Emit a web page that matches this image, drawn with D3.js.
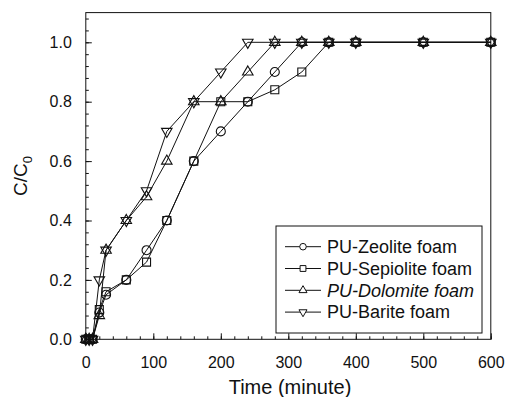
<!DOCTYPE html>
<html>
<head>
<meta charset="utf-8">
<script src="https://cdn.jsdelivr.net/npm/d3@7"></script>
<style>
body { margin: 0; background: #fff; }
text { font-family: "Liberation Sans", Arial, sans-serif; fill: #111; }
</style>
</head>
<body>
<svg id="chart0"></svg>
<script>
// data
var time = [0, 5, 10, 20, 30, 60, 90, 120, 160, 200, 240, 280, 320, 360, 400, 500, 600];
var zeolite = [0, 0, 0, 0.09, 0.15, 0.2, 0.3, 0.4, 0.6, 0.7, 0.8, 0.9, 1, 1, 1, 1, 1];
var sepiolite = [0, 0, 0, 0.1, 0.16, 0.2, 0.26, 0.4, 0.6, 0.8, 0.8, 0.84, 0.9, 1, 1, 1, 1];
var dolomite = [0, 0, 0, 0.08, 0.3, 0.4, 0.48, 0.6, 0.8, 0.8, 0.9, 1, 1, 1, 1, 1, 1];
var barite = [0, 0, 0, 0.2, 0.3, 0.4, 0.5, 0.7, 0.8, 0.9, 1, 1, 1, 1, 1, 1, 1];

var series_names = ['PU-Zeolite foam', 'PU-Sepiolite foam', 'PU-Dolomite foam', 'PU-Barite foam'];
var x_ticks = [0, 100, 200, 300, 400, 500, 600];
var y_ticks = [0, 0.2, 0.4, 0.6, 0.8, 1.0];

var width = 505, height = 397;
var margin = {'top': 12.6, 'bottom': 57.7, 'left': 85.8, 'right': 14.2};
var ink = '#111';

var svg = d3.select('#chart0')
	.attr('width', width)
	.attr('height', height);

var x_conv = d3.scaleLinear()
	.domain([0, 600])
	.range([margin.left, width - margin.right]);

var y_conv = d3.scaleLinear()
	.domain([0, 1.1])
	.range([height - margin.bottom, margin.top]);

var y0 = y_conv(0);

// frame
svg.append('rect')
	.attr('x', x_conv(0))
	.attr('y', y_conv(1.1))
	.attr('width', x_conv(600) - x_conv(0))
	.attr('height', y_conv(0) - y_conv(1.1))
	.attr('fill', 'none')
	.attr('stroke', ink)
	.attr('stroke-width', 1);

// minor ticks
svg.append('g')
	.attr('transform', 'translate(0,' + y0 + ')')
	.call(d3.axisBottom(x_conv).tickValues(d3.range(0, 601, 20)).tickSize(-3).tickFormat(''))
	.call(function(g) { g.select('.domain').remove(); });

svg.append('g')
	.attr('transform', 'translate(' + x_conv(0) + ',0)')
	.call(d3.axisLeft(y_conv).tickValues(d3.range(0, 1.09, 0.04)).tickSize(-3).tickFormat(''))
	.call(function(g) { g.select('.domain').remove(); });

// major ticks + labels
var x_axis = svg.append('g')
	.attr('transform', 'translate(0,' + y0 + ')')
	.call(d3.axisBottom(x_conv).tickValues(x_ticks).tickSize(-6).tickPadding(17).tickFormat(d3.format('d')));

var y_axis = svg.append('g')
	.attr('transform', 'translate(' + x_conv(0) + ',0)')
	.call(d3.axisLeft(y_conv).tickValues(y_ticks).tickSize(-6).tickPadding(14).tickFormat(d3.format('.1f')));

[x_axis, y_axis].forEach(function(g) {
	g.select('.domain').remove();
	g.selectAll('text').style('font-size', '16px').attr('fill', ink);
});
svg.selectAll('.tick line').attr('stroke', ink);

// axis titles
svg.append('text')
	.attr('x', 290)
	.attr('y', 394)
	.attr('text-anchor', 'middle')
	.style('font-size', '20px')
	.text('Time (minute)');

var ytitle = svg.append('text')
	.attr('transform', 'translate(27,176) rotate(-90)')
	.attr('text-anchor', 'middle')
	.style('font-size', '19px');
ytitle.append('tspan').text('C/C');
ytitle.append('tspan').attr('dy', 5).style('font-size', '13px').text('0');

// series
var all_series = [zeolite, sepiolite, dolomite, barite];
var symbols = [d3.symbolCircle, d3.symbolSquare, d3.symbolTriangle, d3.symbolTriangle];
var sizes = [64, 64, 48, 48];
var rotations = [0, 0, 0, 180];

var line = d3.line()
	.x(function(d) { return x_conv(d[0]); })
	.y(function(d) { return y_conv(d[1]); });

all_series.forEach(function(vals, i) {
	var pts = time.map(function(t, j) { return [t, vals[j]]; });
	svg.append('path')
		.datum(pts)
		.attr('d', line)
		.attr('fill', 'none')
		.attr('stroke', ink)
		.attr('stroke-width', 1);

	svg.selectAll('path.mk' + i)
		.data(pts).enter()
		.append('path')
		.attr('class', 'mk' + i)
		.attr('d', d3.symbol().type(symbols[i]).size(sizes[i]))
		.attr('transform', function(d) {
			return 'translate(' + x_conv(d[0]) + ',' + y_conv(d[1]) + ') rotate(' + rotations[i] + ')';
		})
		.attr('fill', 'none')
		.attr('stroke', ink)
		.attr('stroke-width', 1.1);
});

// legend
var legend = svg.append('g');
legend.append('rect')
	.attr('x', 276)
	.attr('y', 226)
	.attr('width', 206)
	.attr('height', 107)
	.attr('fill', '#fff')
	.attr('stroke', ink)
	.attr('stroke-width', 1);

var leg_rows = legend.selectAll('g.row')
	.data(series_names).enter()
	.append('g')
	.attr('class', 'row')
	.attr('transform', function(d, i) { return 'translate(0,' + (246.7 + i * 21.8) + ')'; });

leg_rows.append('line')
	.attr('x1', 285).attr('x2', 321)
	.attr('y1', 0).attr('y2', 0)
	.attr('stroke', ink)
	.attr('stroke-width', 1);

leg_rows.append('path')
	.attr('d', function(d, i) {
		return d3.symbol().type(symbols[i]).size(i < 2 ? 34 : 28)();
	})
	.attr('transform', function(d, i) { return 'translate(303,0) rotate(' + rotations[i] + ')'; })
	.attr('fill', '#fff')
	.attr('stroke', ink)
	.attr('stroke-width', 1);

leg_rows.append('text')
	.attr('x', 327)
	.attr('y', 6.3)
	.style('font-size', '18px')
	.style('font-style', function(d, i) { return i == 2 ? 'italic' : 'normal'; })
	.text(function(d) { return d; });
</script>
</body>
</html>
